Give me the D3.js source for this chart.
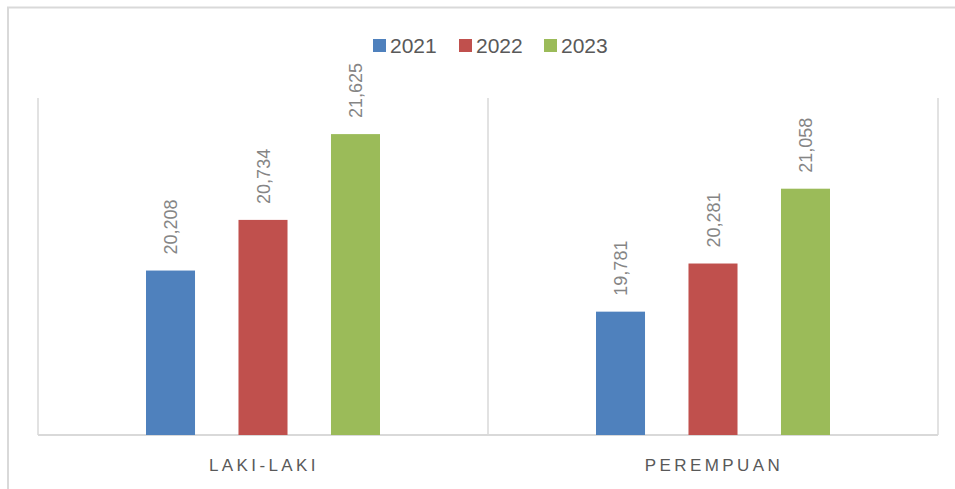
<!DOCTYPE html>
<html>
<head>
<meta charset="utf-8">
<script src="https://cdn.jsdelivr.net/npm/d3@7"></script>
<style>
  body { margin: 0; background: #fff; }
  svg text { font-family: "Liberation Sans", Arial, sans-serif; }
</style>
</head>
<body>
<div id="chart"></div>
<script>
var categories = ['LAKI-LAKI', 'PEREMPUAN'];
var years = ['2021', '2022', '2023'];
var values2021 = [20208, 19781];
var values2022 = [20734, 20281];
var values2023 = [21625, 21058];
var colors = ['#4f81bd', '#c0504d', '#9bbb59'];

var width = 955,
	height = 489;

var plot = { left: 38, right: 938, top: 98, bottom: 435 };

var series = [values2021, values2022, values2023];

var svg = d3.select('#chart').append('svg')
			.attr('width', width)
			.attr('height', height);

// outer chart border
svg.append('rect')
	.attr('x', 8)
	.attr('y', 7.5)
	.attr('width', 960)
	.attr('height', 500)
	.attr('fill', 'none')
	.attr('stroke', '#d9d9d9')
	.attr('stroke-width', 2);

var x0 = d3.scaleBand()
			.domain(categories)
			.range([plot.left, plot.right]);

var x1 = d3.scaleBand()
			.domain(years)
			.range([0, x0.bandwidth() * 0.52])
			.paddingInner(0.47);

var yScale = d3.scaleLinear()
			.domain([18500, 22000])
			.range([plot.bottom, plot.top]);

// category separator lines
var seps = [plot.left].concat(categories.map(function(c) { return x0(c) + x0.bandwidth(); }));
svg.selectAll('.sep').data(seps).enter()
	.append('line')
		.attr('class', 'sep')
		.attr('x1', function(d) { return d; })
		.attr('x2', function(d) { return d; })
		.attr('y1', plot.top)
		.attr('y2', plot.bottom)
		.attr('stroke', '#d9d9d9')
		.attr('stroke-width', 1.5);

// baseline
svg.append('line')
	.attr('x1', plot.left)
	.attr('x2', plot.right)
	.attr('y1', plot.bottom)
	.attr('y2', plot.bottom)
	.attr('stroke', '#d9d9d9')
	.attr('stroke-width', 2);

var groupOffset = (x0.bandwidth() - x1.range()[1]) / 2;

var groups = svg.selectAll('.grp').data(categories).enter()
			.append('g')
				.attr('class', 'grp')
				.attr('transform', function(d) { return 'translate(' + (x0(d) + groupOffset) + ',0)'; });

groups.each(function(cat, ci) {
	var g = d3.select(this);
	var rows = years.map(function(y, si) { return { year: y, value: series[si][ci], color: colors[si] }; });

	g.selectAll('rect').data(rows).enter()
		.append('rect')
			.attr('x', function(d) { return x1(d.year); })
			.attr('y', function(d) { return yScale(d.value); })
			.attr('width', x1.bandwidth())
			.attr('height', function(d) { return plot.bottom - yScale(d.value); })
			.attr('fill', function(d) { return d.color; });

	g.selectAll('text').data(rows).enter()
		.append('text')
			.attr('transform', function(d) {
				return 'translate(' + (x1(d.year) + x1.bandwidth() / 2 + 6.5) + ',' + (yScale(d.value) - 16) + ') rotate(-90)';
			})
			.attr('font-size', 18)
			.attr('fill', '#858585')
			.text(function(d) { return d3.format(',')(d.value); });
});

// category labels
svg.selectAll('.cat').data(categories).enter()
	.append('text')
		.attr('class', 'cat')
		.attr('x', function(d) { return x0(d) + x0.bandwidth() / 2 + 1; })
		.attr('y', 471)
		.attr('text-anchor', 'middle')
		.attr('font-size', 17)
		.attr('letter-spacing', 3.4)
		.attr('fill', '#595959')
		.text(function(d) { return d; });

// legend
var legendX = [373, 459, 544];
var legend = svg.selectAll('.leg').data(years).enter()
			.append('g')
				.attr('class', 'leg')
				.attr('transform', function(d, i) { return 'translate(' + legendX[i] + ',39)'; });

legend.append('rect')
	.attr('width', 13)
	.attr('height', 13)
	.attr('fill', function(d, i) { return colors[i]; });

legend.append('text')
	.attr('x', 17)
	.attr('y', 14)
	.attr('font-size', 21)
	.attr('fill', '#595959')
	.text(function(d) { return d; });
</script>
</body>
</html>
